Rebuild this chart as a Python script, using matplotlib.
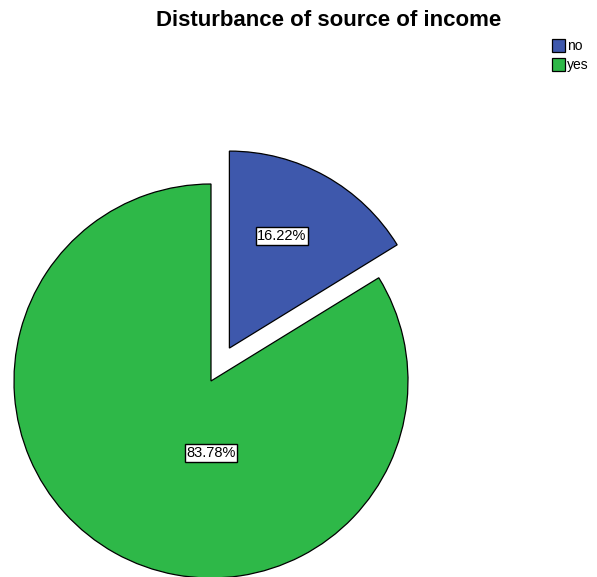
import matplotlib.pyplot as plt

labels = ['no', 'yes']
values = [16.22, 83.78]
colors = ['#3e58ac', '#2eb848']
explode = [37.7, 0]   # in data units here, since radius is in pixels

plt.rcParams['font.family'] = ['Liberation Sans', 'DejaVu Sans']

fig = plt.figure(figsize=(5.97, 5.77), dpi=100)
ax = fig.add_axes([0, 0, 1, 1])

# pie starts at 12 o'clock, clockwise
wedges, texts, autotexts = ax.pie(values, colors=colors, explode=explode,
                                  startangle=90, counterclock=False,
                                  center=(211, 196), radius=197,
                                  autopct='%.2f%%', pctdistance=0.6,
                                  wedgeprops=dict(edgecolor='black', linewidth=0.9),
                                  frame=True)
ax.set_xlim(0, 597)
ax.set_ylim(0, 577)
ax.set_aspect('equal')
ax.axis('off')

# label boxes placed like SPSS does
autotexts[0].set_position((282, 341))
autotexts[1].set_position((211, 124))
for t in autotexts:
    t.set_fontsize(10.5)
    t.set_bbox(dict(facecolor='white', edgecolor='black', linewidth=1, pad=1.2))

fig.text(0.55, 0.965, 'Disturbance of source of income', ha='center', va='center',
         fontsize=16, fontweight='bold')

leg = fig.legend(wedges, labels, loc='upper left', bbox_to_anchor=(0.913, 0.944),
                 frameon=False, fontsize=10, handlelength=0.9, handleheight=1.0,
                 handletextpad=0.2, labelspacing=0.35, borderpad=0)
for h in leg.legend_handles:
    h.set_edgecolor('black')

fig.savefig('out.png', dpi=100)
